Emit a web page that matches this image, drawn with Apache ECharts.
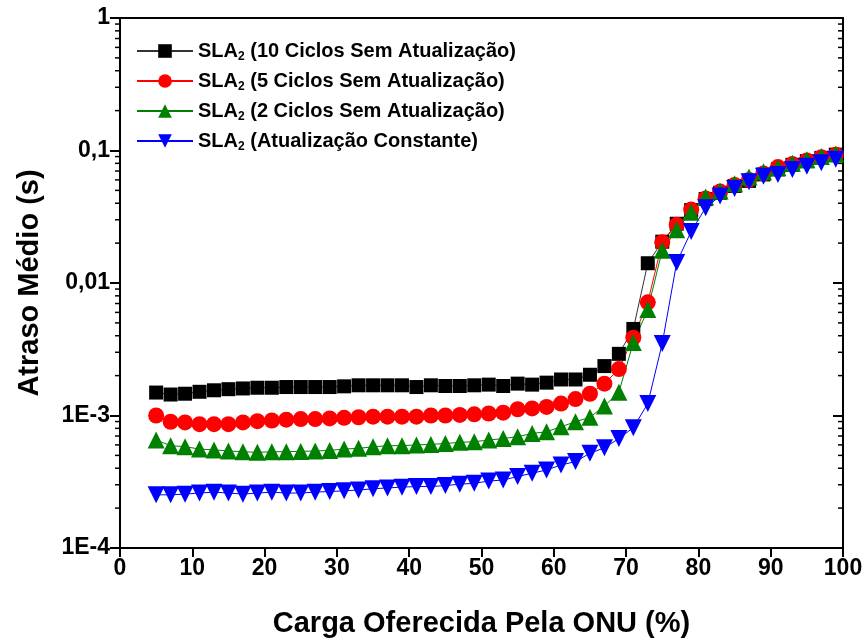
<!DOCTYPE html>
<html>
<head>
<meta charset="utf-8">
<script src="https://cdn.jsdelivr.net/npm/echarts@6/dist/echarts.min.js"></script>
<style>
  html, body { margin: 0; padding: 0; background: #fff; }
  #chart { width: 866px; height: 643px; }
</style>
</head>
<body>
<div id="chart"></div>
<script>
// Offered load per ONU (%)
const carga = [5, 7, 9, 11, 13, 15, 17, 19, 21, 23, 25, 27, 29, 31, 33, 35, 37, 39, 41, 43, 45, 47, 49,
  51, 53, 55, 57, 59, 61, 63, 65, 67, 69, 71, 73, 75, 77, 79, 81, 83, 85, 87, 89, 91, 93, 95, 97, 99];

// Mean delay (s) for each SLA2 variant
const ciclos10 = [1.49e-3, 1.44e-3, 1.46e-3, 1.51e-3, 1.55e-3, 1.58e-3, 1.60e-3, 1.62e-3, 1.62e-3, 1.64e-3,
  1.64e-3, 1.64e-3, 1.64e-3, 1.66e-3, 1.69e-3, 1.69e-3, 1.69e-3, 1.69e-3, 1.64e-3, 1.69e-3, 1.67e-3, 1.67e-3,
  1.69e-3, 1.71e-3, 1.67e-3, 1.74e-3, 1.71e-3, 1.77e-3, 1.87e-3, 1.87e-3, 2.03e-3, 2.36e-3, 2.92e-3, 4.5e-3,
  0.0141, 0.0205, 0.028, 0.0355, 0.043, 0.048, 0.054, 0.059, 0.066, 0.072, 0.078, 0.083, 0.088, 0.093];

const ciclos5 = [1.0e-3, 0.897e-3, 0.886e-3, 0.86e-3, 0.86e-3, 0.86e-3, 0.886e-3, 0.906e-3, 0.917e-3, 0.93e-3,
  0.94e-3, 0.94e-3, 0.95e-3, 0.96e-3, 0.97e-3, 0.98e-3, 0.98e-3, 0.98e-3, 0.98e-3, 1.0e-3, 1.0e-3, 1.01e-3,
  1.02e-3, 1.035e-3, 1.05e-3, 1.115e-3, 1.13e-3, 1.16e-3, 1.23e-3, 1.33e-3, 1.46e-3, 1.74e-3, 2.24e-3, 3.87e-3,
  7.15e-3, 0.0203, 0.0275, 0.0358, 0.0435, 0.049, 0.055, 0.060, 0.067, 0.075, 0.079, 0.084, 0.089, 0.093];

const ciclos2 = [0.652e-3, 0.592e-3, 0.582e-3, 0.558e-3, 0.55e-3, 0.54e-3, 0.533e-3, 0.527e-3, 0.533e-3, 0.533e-3,
  0.536e-3, 0.54e-3, 0.545e-3, 0.558e-3, 0.565e-3, 0.58e-3, 0.592e-3, 0.592e-3, 0.6e-3, 0.605e-3, 0.615e-3, 0.627e-3,
  0.635e-3, 0.652e-3, 0.67e-3, 0.692e-3, 0.732e-3, 0.754e-3, 0.822e-3, 0.897e-3, 0.97e-3, 1.18e-3, 1.5e-3, 3.55e-3,
  6.3e-3, 0.0177, 0.0252, 0.0342, 0.0445, 0.0495, 0.056, 0.063, 0.069, 0.074, 0.080, 0.085, 0.090, 0.094];

const constante = [2.52e-4, 2.52e-4, 2.55e-4, 2.6e-4, 2.64e-4, 2.6e-4, 2.55e-4, 2.6e-4, 2.64e-4, 2.6e-4,
  2.6e-4, 2.64e-4, 2.67e-4, 2.7e-4, 2.74e-4, 2.8e-4, 2.84e-4, 2.88e-4, 2.91e-4, 2.91e-4, 2.96e-4, 3.03e-4,
  3.08e-4, 3.2e-4, 3.26e-4, 3.46e-4, 3.67e-4, 3.88e-4, 4.23e-4, 4.49e-4, 5.19e-4, 5.7e-4, 6.7e-4, 8.1e-4,
  1.23e-3, 3.5e-3, 0.0143, 0.0245, 0.037, 0.0453, 0.0517, 0.058, 0.064, 0.066, 0.072, 0.076, 0.081, 0.086];

const seriesNames = [
  'SLA2 (10 Ciclos Sem Atualização)',
  'SLA2 (5 Ciclos Sem Atualização)',
  'SLA2 (2 Ciclos Sem Atualização)',
  'SLA2 (Atualização Constante)'
];

// Decade labels of the log axis, from 1E-4 up to 1
const yTickLabels = ['1E-4', '1E-3', '0,01', '0,1', '1'];
const xTickLabels = ['0', '10', '20', '30', '40', '50', '60', '70', '80', '90', '100'];

// Minor ticks at 2..9 within each decade
const minorTicks = [];
for (let e = -4; e < 0; e++) {
  for (let m = 2; m <= 9; m++) minorTicks.push(m * Math.pow(10, e));
}

const FONT = '"Liberation Sans", Arial, sans-serif';

function pairs(ys) { return carga.map((x, i) => [x, ys[i]]); }

function makeSeries(name, data, color, lineColor, symbol, size, rotate) {
  return {
    name: name,
    type: 'line',
    data: pairs(data),
    symbol: symbol,
    symbolSize: size,
    symbolRotate: rotate || 0,
    showAllSymbol: true,
    itemStyle: { color: color, borderWidth: 0, opacity: 1 },
    lineStyle: { color: lineColor, width: 1 },
    emphasis: { disabled: true },
    animation: false
  };
}

const chart = echarts.init(document.getElementById('chart'), null, { renderer: 'canvas' });

const legendRich = {
  a: { fontFamily: FONT, fontWeight: 'bold', fontSize: 20, color: '#000', lineHeight: 24 },
  s: { fontFamily: FONT, fontWeight: 'bold', fontSize: 12, color: '#000', lineHeight: 24, padding: [12, 0, 0, 0], verticalAlign: 'bottom' }
};

chart.setOption({
  backgroundColor: '#fff',
  animation: false,
  grid: { left: 120, right: 23, top: 18, bottom: 92, containLabel: false },
  legend: {
    data: seriesNames,
    orient: 'vertical',
    left: 131,
    top: 34,
    itemWidth: 56,
    itemHeight: 17,
    itemGap: 6,
    selectedMode: false,
    formatter: function (name) {
      const rest = name.slice(4);
      return '{a|SLA}{s|2}{a|' + rest + '}';
    },
    textStyle: { rich: legendRich }
  },
  xAxis: [{
    type: 'value',
    min: 0, max: 100, interval: 10,
    name: 'Carga Oferecida Pela ONU (%)',
    nameLocation: 'middle',
    nameGap: 61,
    nameTextStyle: { fontFamily: FONT, fontWeight: 'bold', fontSize: 29, color: '#000' },
    axisLine: { show: true, onZero: false, lineStyle: { color: '#000', width: 2 } },
    axisTick: { show: true, inside: false, length: 9, lineStyle: { color: '#000', width: 2 } },
    axisLabel: {
      fontFamily: FONT, fontWeight: 'bold', fontSize: 23, color: '#000', margin: 9,
      formatter: function (v) { return xTickLabels[Math.round(v / 10)]; }
    },
    splitLine: { show: false }
  }, {
    type: 'value', position: 'top',
    min: 0, max: 100, interval: 10,
    axisLine: { show: true, onZero: false, lineStyle: { color: '#000', width: 2 } },
    axisTick: { show: false }, axisLabel: { show: false }, splitLine: { show: false }
  }],
  yAxis: [{
    type: 'log', logBase: 10,
    min: 1e-4, max: 1,
    name: 'Atraso Médio (s)',
    nameLocation: 'middle',
    nameGap: 76,
    nameRotate: 90,
    nameTextStyle: { fontFamily: FONT, fontWeight: 'bold', fontSize: 29, color: '#000' },
    axisLine: { show: true, onZero: false, lineStyle: { color: '#000', width: 2 } },
    axisTick: { show: true, inside: false, length: 10, lineStyle: { color: '#000', width: 2 } },
    axisLabel: {
      fontFamily: FONT, fontWeight: 'bold', fontSize: 23, color: '#000', margin: 10,
      formatter: function (v) { return yTickLabels[Math.round(Math.log10(v)) + 4]; }
    },
    splitLine: { show: false }
  }, {
    type: 'log', logBase: 10, position: 'right',
    min: 1e-4, max: 1,
    axisLine: { show: true, onZero: false, lineStyle: { color: '#000', width: 2 } },
    axisTick: { show: true, inside: true, length: 10, lineStyle: { color: '#000', width: 2 } },
    axisLabel: { show: false }, splitLine: { show: false }
  }],
  series: [
    makeSeries(seriesNames[0], ciclos10, '#000000', '#333333', 'rect', 14),
    makeSeries(seriesNames[1], ciclos5, '#ff0000', '#ff0000', 'circle', 16),
    makeSeries(seriesNames[2], ciclos2, '#008000', '#008000', 'triangle', 17),
    makeSeries(seriesNames[3], constante, '#0000ff', '#0000ff', 'triangle', 17, 180),
    {
      // minor ticks of the log axis: outward on the left, inward on the right
      type: 'custom',
      name: 'minorTicks',
      xAxisIndex: 0, yAxisIndex: 0,
      silent: true,
      clip: false,
      data: minorTicks.map(v => [0, v]),
      encode: { x: 0, y: 1 },
      renderItem: function (params, api) {
        const cs = params.coordSys;
        const y = api.coord([0, api.value(1)])[1];
        const st = { stroke: '#000', lineWidth: 1.5 };
        return {
          type: 'group',
          children: [
            { type: 'line', shape: { x1: cs.x - 5, y1: y, x2: cs.x, y2: y }, style: st },
            { type: 'line', shape: { x1: cs.x + cs.width - 5, y1: y, x2: cs.x + cs.width, y2: y }, style: st }
          ]
        };
      }
    }
  ]
});
</script>
</body>
</html>
